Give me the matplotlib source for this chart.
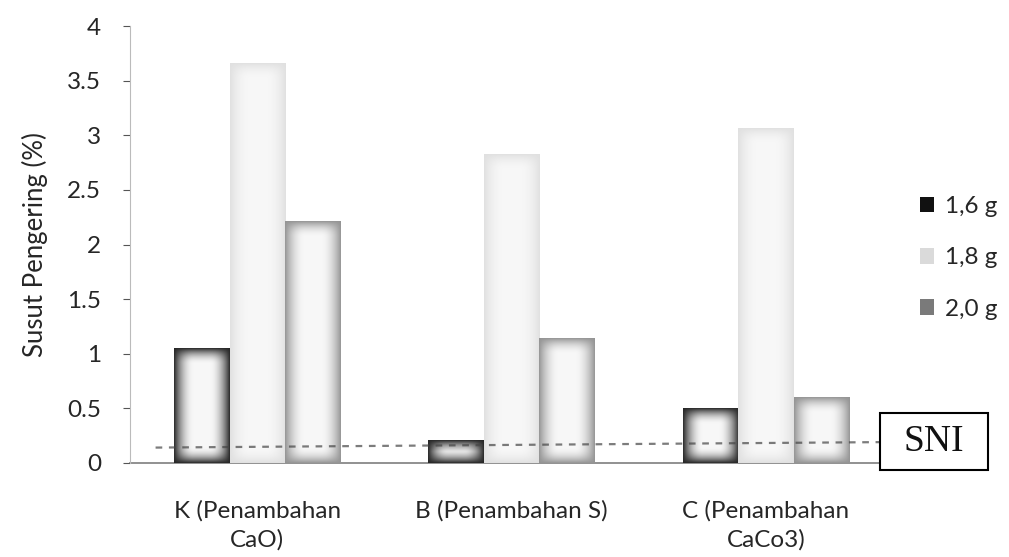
import numpy as np
import matplotlib
matplotlib.use("Agg")
import matplotlib.pyplot as plt
from matplotlib.patches import Rectangle, Patch
from matplotlib.ticker import MultipleLocator, FuncFormatter

plt.rcParams['font.family'] = ['Lato', 'DejaVu Sans']

categories = ["K (Penambahan\nCaO)", "B (Penambahan S)", "C (Penambahan\nCaCo3)"]
series_labels = ["1,6 g", "1,8 g", "2,0 g"]
values = {
    "1,6 g": [1.05, 0.21, 0.50],
    "1,8 g": [3.66, 2.83, 3.06],
    "2,0 g": [2.21, 1.14, 0.60],
}
sni_level = [0.14, 0.19]   # dashed SNI line, left and right end

edge_colors = {"1,6 g": (0.15, 0.15, 0.15), "1,8 g": (0.88, 0.88, 0.88), "2,0 g": (0.58, 0.58, 0.58)}
legend_colors = {"1,6 g": "#111111", "1,8 g": "#dadada", "2,0 g": "#7a7a7a"}

W, H, DPI = 1009, 557, 100
fig = plt.figure(figsize=(W / DPI, H / DPI), dpi=DPI)
ax = fig.add_axes([0.129, 0.169, 0.756, 0.784])

x = np.arange(len(categories))
bw = 0.218
xlim = (-0.5, 2.5)
ylim = (0, 4)

# pixel scale of one data unit, used for the shaded bar fill
pos = ax.get_position()
px_x = pos.width * W / (xlim[1] - xlim[0])
px_y = pos.height * H / (ylim[1] - ylim[0])


def smooth(t):
    t = np.clip(t, 0, 1)
    return t * (2 - t)


def shade_bar(rect, edge):
    x0, y0 = rect.get_x(), rect.get_y()
    w, h = rect.get_width(), rect.get_height()
    wp, hp = w * px_x, h * px_y
    nx, ny = 60, max(int(hp), 2)
    u = (np.arange(nx) + 0.5) / nx * wp
    v = (np.arange(ny) + 0.5) / ny * hp
    U, V = np.meshgrid(u, v)
    tx = smooth(np.minimum(U, wp - U) / 20.0)
    ty = smooth(np.minimum(V, hp - V) / 16.0)
    t = tx * ty
    center = np.array([0.97, 0.97, 0.97])
    ec = np.array(edge)
    img = ec[None, None, :] * (1 - t[..., None]) + center[None, None, :] * t[..., None]
    ax.imshow(img[::-1], extent=(x0, x0 + w, y0, y0 + h), aspect='auto',
              interpolation='bilinear', zorder=2, clip_path=rect)


for i, name in enumerate(series_labels):
    bars = ax.bar(x + (i - 1) * bw, values[name], bw, color='none', zorder=2)
    for rect in bars:
        shade_bar(rect, edge_colors[name])

# SNI reference line
ax.plot([-0.40, 2.45], sni_level, linestyle=(0, (3, 3)), color='#444444',
        lw=1.6, alpha=0.7, zorder=3, clip_on=False)

ax.set_xlim(*xlim)
ax.set_ylim(*ylim)
ax.set_aspect('auto')

ax.set_xticks(x)
ax.set_xticklabels(categories, fontsize=17.5, color='#262626', linespacing=1.4)
ax.tick_params(axis='x', length=0, pad=27)
ax.yaxis.set_major_locator(MultipleLocator(0.5))
ax.yaxis.set_major_formatter(FuncFormatter(lambda v, p: f"{v:g}"))
ax.tick_params(axis='y', labelsize=17.5, labelcolor='#262626', length=5,
               color='#555555', pad=16)
ax.set_ylabel("Susut Pengering (%)", fontsize=18.5, color='#262626', labelpad=14)

for s in ['top', 'right']:
    ax.spines[s].set_visible(False)
ax.spines['left'].set_color('#bbbbbb')
ax.spines['bottom'].set_color('#888888')
ax.spines['bottom'].set_linewidth(1.3)
ax.spines['bottom'].set_zorder(1)

handles = [Patch(facecolor=legend_colors[n], edgecolor='none') for n in series_labels]
fig.legend(handles, series_labels, loc='center left', bbox_to_anchor=(0.89, 0.537),
           frameon=False, fontsize=17.5, handlelength=0.6, handleheight=0.6,
           handletextpad=0.45, labelspacing=1.25, labelcolor='#262626')

# SNI label box
fig.add_artist(Rectangle((880 / W, (H - 470) / H), 108 / W, 57 / H,
                         transform=fig.transFigure, facecolor='white',
                         edgecolor='black', lw=1.5))
fig.text(934 / W, (H - 441.5) / H, "SNI", fontsize=27, family='Liberation Serif',
         ha='center', va='center', color='#111111')

fig.savefig("out.png", dpi=DPI)
